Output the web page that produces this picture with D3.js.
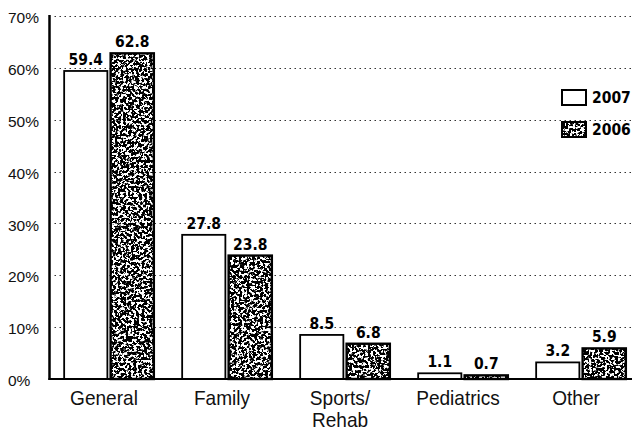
<!DOCTYPE html>
<html>
<head>
<meta charset="utf-8">
<script src="https://cdn.jsdelivr.net/npm/d3@7"></script>
<style>
  html, body { margin: 0; padding: 0; background: #fff; }
  svg { display: block; }
</style>
</head>
<body>
<svg id="chart" width="632" height="434"></svg>
<script>
// ---- data ----
const categories = ["General", "Family", "Sports/\nRehab", "Pediatrics", "Other"];
const seriesNames = ["2007", "2006"];
const values2007 = [59.4, 27.8, 8.5, 1.1, 3.2];
const values2006 = [62.8, 23.8, 6.8, 0.7, 5.9];
const yTicks = [0, 10, 20, 30, 40, 50, 60, 70];

const svg = d3.select("#chart");
const W = 632, H = 434;
const axisX = 49.5, y0px = 379, yTop = 16;

// grain filter for the 2006 series
const defs = svg.append("defs");
const f = defs.append("filter").attr("id", "grain")
  .attr("filterUnits", "objectBoundingBox").attr("x", 0).attr("y", 0)
  .attr("width", 1).attr("height", 1)
  .attr("primitiveUnits", "userSpaceOnUse");
f.append("feTurbulence").attr("type", "fractalNoise").attr("baseFrequency", 0.38)
  .attr("numOctaves", 3).attr("seed", 11).attr("result", "noise");
f.append("feColorMatrix").attr("in", "noise").attr("type", "matrix")
  .attr("values", "0 0 0 0 0  0 0 0 0 0  0 0 0 0 0  16 0 0 0 -7.1").attr("result", "mask");
f.append("feComposite").attr("in", "mask").attr("in2", "SourceGraphic").attr("operator", "in");

const y = d3.scaleLinear().domain([0, 70]).range([y0px, yTop]);
const x = d3.scaleBand().domain(categories).range([50, 640]).paddingInner(0.24).paddingOuter(0.12);
const xs = d3.scaleBand().domain(seriesNames).range([0, x.bandwidth()]).paddingInner(0.07);

// gridlines
svg.append("g").selectAll("line").data(yTicks.filter(d => d > 0)).join("line")
  .attr("x1", axisX + 5).attr("x2", W)
  .attr("y1", d => Math.round(y(d)) + 0.5).attr("y2", d => Math.round(y(d)) + 0.5)
  .attr("stroke", "#333").attr("stroke-width", 1.1).attr("stroke-dasharray", "1.5,3.5");

// y labels
svg.append("g").selectAll("text").data(yTicks).join("text")
  .attr("x", 8).attr("y", d => y(d) + 3)
  .attr("font-family", "Liberation Sans, Arial, sans-serif").attr("font-size", 15.5)
  .attr("fill", "#111").attr("dominant-baseline", "middle")
  .text(d => d + "%");

const rows = categories.map((c, i) => [
  { cat: c, s: "2007", v: values2007[i] },
  { cat: c, s: "2006", v: values2006[i] }
]).flat();

const bars = svg.append("g");
rows.forEach(d => {
  const bx = x(d.cat) + xs(d.s), bw = xs.bandwidth();
  const by = y(d.v), bh = y0px - by;
  bars.append("rect").attr("x", bx).attr("y", by).attr("width", bw).attr("height", bh)
    .attr("fill", "#fff");
  if (d.s === "2006") {
    bars.append("rect").attr("x", bx).attr("y", by).attr("width", bw).attr("height", bh)
      .attr("fill", "#000").attr("filter", "url(#grain)");
  }
  bars.append("rect").attr("x", bx).attr("y", by).attr("width", bw).attr("height", bh)
    .attr("fill", "none").attr("stroke", "#000").attr("stroke-width", d.s === "2006" ? 2.4 : 1.8);
  bars.append("text").attr("x", bx + bw / 2).attr("y", by - 6)
    .attr("text-anchor", "middle")
    .attr("font-family", "DejaVu Sans Condensed, DejaVu Sans, sans-serif")
    .attr("font-weight", "bold").attr("font-stretch", "condensed").attr("font-size", 15.5)
    .attr("fill", "#000").text(d.v.toFixed(1));
});

// axes lines
svg.append("line").attr("x1", axisX).attr("x2", axisX).attr("y1", yTop - 1).attr("y2", y0px + 1)
  .attr("stroke", "#000").attr("stroke-width", 2.5);
svg.append("line").attr("x1", axisX - 1).attr("x2", W).attr("y1", y0px).attr("y2", y0px)
  .attr("stroke", "#000").attr("stroke-width", 2.2);

// category labels (slightly condensed)
const cl = svg.append("g").selectAll("g").data(categories).join("g")
  .attr("transform", d => `translate(${x(d) + x.bandwidth() / 2 - 5},405) scale(0.93,1)`);
cl.each(function (d) {
  const t = d3.select(this).append("text")
    .attr("text-anchor", "middle")
    .attr("font-family", "Liberation Sans, Arial, sans-serif").attr("font-size", 20.5)
    .attr("fill", "#111");
  d.split("\n").forEach((line, i) => {
    t.append("tspan").attr("x", 0).attr("dy", i === 0 ? 0 : 22).text(line);
  });
});

// legend
const lg = svg.append("g");
seriesNames.forEach((s, i) => {
  const ly = 90 + i * 32;
  lg.append("rect").attr("x", 562).attr("y", ly).attr("width", 24).attr("height", 15).attr("fill", "#fff");
  if (s === "2006") {
    lg.append("rect").attr("x", 562).attr("y", ly).attr("width", 24).attr("height", 15)
      .attr("fill", "#000").attr("filter", "url(#grain)");
  }
  lg.append("rect").attr("x", 562).attr("y", ly).attr("width", 24).attr("height", 15)
    .attr("fill", "none").attr("stroke", "#000").attr("stroke-width", 2);
  lg.append("text").attr("x", 592).attr("y", ly + 13)
    .attr("font-family", "DejaVu Sans Condensed, DejaVu Sans, sans-serif")
    .attr("font-weight", "bold").attr("font-stretch", "condensed").attr("font-size", 15.5)
    .attr("fill", "#000").text(s);
});
</script>
</body>
</html>
